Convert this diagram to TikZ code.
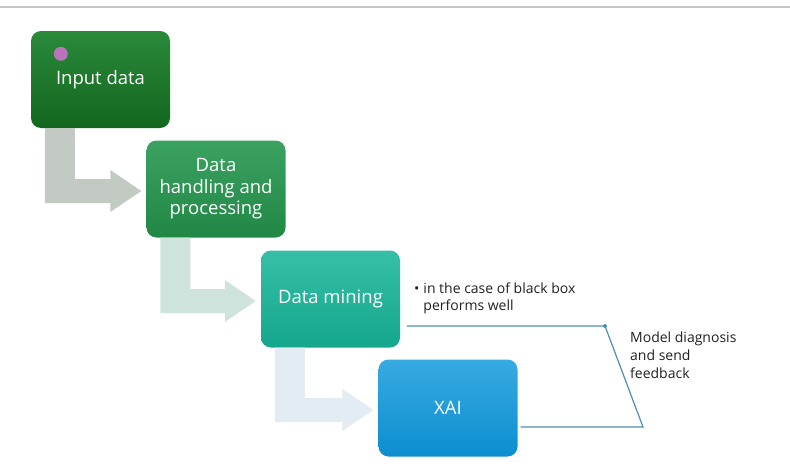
\documentclass[tikz,border=0pt]{standalone}
\usepackage{fontspec}
\setmainfont{Open Sans}
\usetikzlibrary{calc,positioning}

\definecolor{inTop}{HTML}{2A8A3A}
\definecolor{inBot}{HTML}{13661E}
\definecolor{hdTop}{HTML}{3CA262}
\definecolor{hdBot}{HTML}{208745}
\definecolor{dmTop}{HTML}{36BFA6}
\definecolor{dmBot}{HTML}{14A78D}
\definecolor{xaTop}{HTML}{38AAE2}
\definecolor{xaBot}{HTML}{0C8ECF}
\definecolor{arrA}{HTML}{C3CAC3}
\definecolor{arrB}{HTML}{CFE3DD}
\definecolor{arrC}{HTML}{E3EBF3}
\definecolor{fbline}{HTML}{4D8FB3}
\definecolor{notetext}{HTML}{202020}

\tikzset{
  stepbox/.style={rounded corners=10pt,minimum width=139pt,minimum height=97pt,
    inner sep=0pt,align=center,text=white,font=\fontsize{18.5}{21.5}\selectfont},
  note/.style={align=left,text=notetext,inner sep=0pt},
  feedback/.style={draw=fbline,line width=1.2pt}
}

\begin{document}
\begin{tikzpicture}[x=1pt,y=-1pt]
\useasboundingbox (0,0) rectangle (790,474);
\draw[gray!45,line width=1.6pt] (0,7) -- (790,7);

% process boxes
\foreach \t/\c/\x/\y [count=\n] in
  {Input data/in/100.5/79.5, Data\\handling and\\processing/hd/216/189,
   Data mining/dm/330.5/299, XAI/xa/448/408}
  \node[stepbox,top color=\c Top,bottom color=\c Bot] (B\n) at (\x,\y) {\t};

\fill[violet!55!white] ([shift={(30,23)}]B1.north west) circle (7pt);

% bent arrows between the boxes
\foreach \a/\b/\c in {B1/B2/arrA, B2/B3/arrB, B3/B4/arrC}
  \fill[\c] let \p1=(\a.south west), \p2=(\b.west) in
    (\x1+14pt,\y1) -- (\x1+14pt,\y2-14pt) -- (\x2-36pt,\y2-14pt)
    -- (\x2-36pt,\y2-23pt) -- (\x2-5pt,\y2-2pt) -- (\x2-36pt,\y2+19pt)
    -- (\x2-36pt,\y2+10pt) -- (\x1+44pt,\y2+10pt) -- (\x1+44pt,\y1) -- cycle;

% feedback loop
\coordinate (c1) at (605,326);
\coordinate (c2) at (643,427);
\draw[feedback] ([xshift=7pt]B3.east |- c1) -- (c1) -- (c2) -- ([xshift=3pt]B4.east |- c2);
\fill[fbline] (c1) circle (2pt);

\node[note,anchor=north west,font=\fontsize{14}{17}\selectfont] (perf) at (414,283)
  {\textbullet\hspace{4pt}in the case of black box\\\hphantom{\textbullet\hspace{4pt}}performs well};
\node[note,anchor=north west,font=\fontsize{14}{18}\selectfont] (diag) at (630,332)
  {Model diagnosis\\and send\\feedback};
\end{tikzpicture}
\end{document}
